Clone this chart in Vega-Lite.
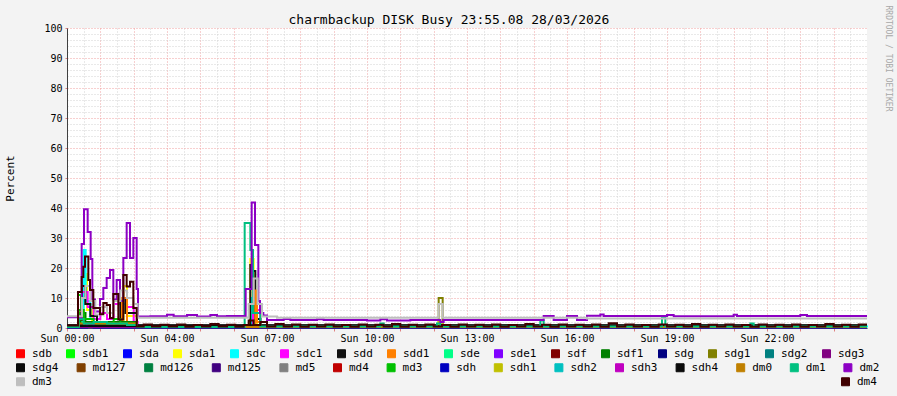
{
"$schema": "https://vega.github.io/schema/vega-lite/v6.json",
"autosize": {"type": "none"},
"width": 800,
"height": 300,
"padding": {"left": 67, "top": 28, "right": 30, "bottom": 68},
"background": "#F3F3F3",
"config": {
  "view": {"fill": "white", "stroke": null},
  "font": "DejaVu Sans Mono",
  "axis": {"labelFont": "DejaVu Sans Mono", "titleFont": "DejaVu Sans Mono", "labelColor": "black", "titleColor": "black", "titleFontWeight": "normal"},
  "legend": {"labelFont": "DejaVu Sans Mono", "labelFontSize": 11, "labelColor": "black", "symbolType": "square", "symbolSize": 64, "symbolStrokeWidth": 1, "padding": 0, "labelOffset": 6, "rowPadding": 0}
},
"datasets": {
"g1": [
{"s":"sdb","h":0,"v":0.3},{"s":"sdb","h":0.45,"v":1.5},{"s":"sdb","h":0.6,"v":0.8},{"s":"sdb","h":2.1,"v":0.2},{"s":"sdb","h":24,"v":0.2},
{"s":"sdb1","h":0,"v":0.3},{"s":"sdb1","h":0.33,"v":11},{"s":"sdb1","h":0.42,"v":5},{"s":"sdb1","h":0.55,"v":3},{"s":"sdb1","h":0.75,"v":1.5},{"s":"sdb1","h":1.2,"v":1.2},{"s":"sdb1","h":1.5,"v":2},{"s":"sdb1","h":1.7,"v":1.5},{"s":"sdb1","h":2.1,"v":0.2},{"s":"sdb1","h":24,"v":0.2},
{"s":"sda","h":0,"v":0.2},{"s":"sda","h":0.5,"v":1},{"s":"sda","h":0.8,"v":0.2},{"s":"sda","h":24,"v":0.2},
{"s":"sda1","h":0,"v":0.3},{"s":"sda1","h":0.5,"v":18},{"s":"sda1","h":0.6,"v":6},{"s":"sda1","h":0.75,"v":2},{"s":"sda1","h":1.0,"v":0.8},{"s":"sda1","h":1.7,"v":14},{"s":"sda1","h":1.8,"v":4},{"s":"sda1","h":2.1,"v":0.3},{"s":"sda1","h":5.5,"v":23},{"s":"sda1","h":5.6,"v":3},{"s":"sda1","h":5.7,"v":0.3},{"s":"sda1","h":24,"v":0.3},
{"s":"sdc","h":0,"v":0.2},{"s":"sdc","h":0.5,"v":26},{"s":"sdc","h":0.56,"v":9},{"s":"sdc","h":0.7,"v":3},{"s":"sdc","h":0.9,"v":1},{"s":"sdc","h":1.65,"v":8},{"s":"sdc","h":1.8,"v":2},{"s":"sdc","h":2.1,"v":0.2},{"s":"sdc","h":5.55,"v":10},{"s":"sdc","h":5.65,"v":0.5},{"s":"sdc","h":24,"v":0.2},
{"s":"sdc1","h":0,"v":0.3},{"s":"sdc1","h":0.45,"v":12},{"s":"sdc1","h":0.62,"v":7},{"s":"sdc1","h":0.8,"v":3},{"s":"sdc1","h":1.0,"v":5},{"s":"sdc1","h":1.2,"v":3},{"s":"sdc1","h":1.4,"v":8},{"s":"sdc1","h":1.6,"v":10},{"s":"sdc1","h":1.8,"v":7},{"s":"sdc1","h":2.0,"v":2},{"s":"sdc1","h":2.12,"v":0.3},{"s":"sdc1","h":5.58,"v":10},{"s":"sdc1","h":5.7,"v":6},{"s":"sdc1","h":5.8,"v":0.3},{"s":"sdc1","h":24,"v":0.3},
{"s":"sdd","h":0,"v":0.8},{"s":"sdd","h":0.45,"v":14},{"s":"sdd","h":0.55,"v":8},{"s":"sdd","h":0.7,"v":4},{"s":"sdd","h":0.9,"v":2},{"s":"sdd","h":1.6,"v":10},{"s":"sdd","h":1.75,"v":5},{"s":"sdd","h":2.1,"v":0.8},{"s":"sdd","h":5.5,"v":21},{"s":"sdd","h":5.58,"v":19},{"s":"sdd","h":5.65,"v":3},{"s":"sdd","h":5.8,"v":0.8},{"s":"sdd","h":24,"v":0.8},
{"s":"sdd1","h":0,"v":0.2},{"s":"sdd1","h":0.4,"v":6},{"s":"sdd1","h":0.5,"v":2},{"s":"sdd1","h":1.65,"v":10},{"s":"sdd1","h":1.8,"v":2},{"s":"sdd1","h":2.1,"v":0.2},{"s":"sdd1","h":5.65,"v":12.5},{"s":"sdd1","h":5.7,"v":2},{"s":"sdd1","h":5.8,"v":0.2},{"s":"sdd1","h":24,"v":0.2},
{"s":"sde","h":0,"v":0.5},{"s":"sde","h":0.4,"v":2},{"s":"sde","h":1.0,"v":1.5},{"s":"sde","h":2.1,"v":0.5},{"s":"sde","h":24,"v":0.5},
{"s":"sde1","h":0,"v":0.3},{"s":"sde1","h":24,"v":0.3},
{"s":"sdf","h":0,"v":0.5},{"s":"sdf","h":24,"v":0.5},
{"s":"sdf1","h":0,"v":0.3},{"s":"sdf1","h":0.4,"v":5},{"s":"sdf1","h":0.55,"v":2},{"s":"sdf1","h":2.1,"v":0.3},{"s":"sdf1","h":24,"v":0.3},
{"s":"sdg","h":0,"v":0.2},{"s":"sdg","h":24,"v":0.2},
{"s":"sdg1","h":0,"v":0.2},{"s":"sdg1","h":11.15,"v":10},{"s":"sdg1","h":11.27,"v":0.2},{"s":"sdg1","h":24,"v":0.2},
{"s":"sdg2","h":0,"v":0.2},{"s":"sdg2","h":24,"v":0.2},
{"s":"sdg3","h":0,"v":0.2},{"s":"sdg3","h":24,"v":0.2}
],
"g2": [
{"s":"sdg4","h":0,"v":0.9},{"s":"sdg4","h":24,"v":0.9},
{"s":"md127","h":0,"v":0.4},{"s":"md127","h":24,"v":0.4},
{"s":"md126","h":0,"v":0.3},{"s":"md126","h":24,"v":0.3},
{"s":"md125","h":0,"v":0.3},{"s":"md125","h":24,"v":0.3},
{"s":"md5","h":0,"v":0.3},{"s":"md5","h":24,"v":0.3},
{"s":"md4","h":0,"v":0.3},{"s":"md4","h":24,"v":0.3},
{"s":"md3","h":0,"v":0.3},{"s":"md3","h":0.35,"v":6},{"s":"md3","h":0.5,"v":3},{"s":"md3","h":0.8,"v":1.5},{"s":"md3","h":1.4,"v":3},{"s":"md3","h":1.6,"v":1.5},{"s":"md3","h":2.1,"v":0.3},{"s":"md3","h":24,"v":0.3},
{"s":"sdh","h":0,"v":0.2},{"s":"sdh","h":0.6,"v":1.5},{"s":"sdh","h":0.8,"v":0.2},{"s":"sdh","h":24,"v":0.2},
{"s":"sdh1","h":0,"v":0.3},{"s":"sdh1","h":11.15,"v":2},{"s":"sdh1","h":11.27,"v":0.3},{"s":"sdh1","h":24,"v":0.3},
{"s":"sdh2","h":0,"v":0.3},{"s":"sdh2","h":24,"v":0.3},
{"s":"sdh3","h":0,"v":0.3},{"s":"sdh3","h":24,"v":0.3},
{"s":"sdh4","h":0,"v":0.6},{"s":"sdh4","h":24,"v":0.6},
{"s":"dm0","h":0,"v":0.3},{"s":"dm0","h":0.35,"v":1.5},{"s":"dm0","h":2.1,"v":0.3},{"s":"dm0","h":24,"v":0.3},
{"s":"dm1","h":0,"v":0.3},{"s":"dm1","h":0.35,"v":3},{"s":"dm1","h":0.5,"v":1.5},{"s":"dm1","h":0.8,"v":2},{"s":"dm1","h":1.2,"v":1.5},{"s":"dm1","h":1.8,"v":1},{"s":"dm1","h":2.1,"v":0.3},{"s":"dm1","h":5.33,"v":35},{"s":"dm1","h":5.5,"v":26},{"s":"dm1","h":5.58,"v":5},{"s":"dm1","h":5.8,"v":0.5},{"s":"dm1","h":9.4,"v":1.5},{"s":"dm1","h":9.5,"v":0.5},{"s":"dm1","h":11.1,"v":1.5},{"s":"dm1","h":11.2,"v":0.5},{"s":"dm1","h":14.2,"v":2.5},{"s":"dm1","h":14.3,"v":0.5},{"s":"dm1","h":17.85,"v":3.5},{"s":"dm1","h":17.95,"v":0.5},{"s":"dm1","h":20.5,"v":1.5},{"s":"dm1","h":20.6,"v":0.5},{"s":"dm1","h":24,"v":0.5},
{"s":"dm2","h":0,"v":3.6},{"s":"dm2","h":0.44,"v":28},{"s":"dm2","h":0.51,"v":39.6},{"s":"dm2","h":0.62,"v":32},{"s":"dm2","h":0.71,"v":23},{"s":"dm2","h":0.76,"v":9.5},{"s":"dm2","h":0.84,"v":5.5},{"s":"dm2","h":0.99,"v":9.7},{"s":"dm2","h":1.09,"v":13.3},{"s":"dm2","h":1.19,"v":16.7},{"s":"dm2","h":1.29,"v":19.3},{"s":"dm2","h":1.39,"v":9.5},{"s":"dm2","h":1.49,"v":16},{"s":"dm2","h":1.59,"v":9},{"s":"dm2","h":1.69,"v":23.3},{"s":"dm2","h":1.79,"v":35},{"s":"dm2","h":1.89,"v":23.3},{"s":"dm2","h":1.99,"v":30},{"s":"dm2","h":2.09,"v":13},{"s":"dm2","h":2.13,"v":3.8},{"s":"dm2","h":2.5,"v":3.9},{"s":"dm2","h":3.0,"v":4.4},{"s":"dm2","h":3.2,"v":3.9},{"s":"dm2","h":3.6,"v":4.3},{"s":"dm2","h":3.9,"v":3.8},{"s":"dm2","h":4.3,"v":4.3},{"s":"dm2","h":4.5,"v":3.9},{"s":"dm2","h":4.8,"v":4.0},{"s":"dm2","h":5.36,"v":13},{"s":"dm2","h":5.54,"v":41.8},{"s":"dm2","h":5.64,"v":27.7},{"s":"dm2","h":5.74,"v":9},{"s":"dm2","h":5.79,"v":5},{"s":"dm2","h":5.89,"v":4.2},{"s":"dm2","h":6.0,"v":2.7},{"s":"dm2","h":6.5,"v":3.0},{"s":"dm2","h":6.7,"v":2.7},{"s":"dm2","h":7.5,"v":2.9},{"s":"dm2","h":7.7,"v":2.7},{"s":"dm2","h":9.0,"v":2.5},{"s":"dm2","h":9.4,"v":2.9},{"s":"dm2","h":9.6,"v":2.5},{"s":"dm2","h":10.3,"v":2.7},{"s":"dm2","h":11.2,"v":2.0},{"s":"dm2","h":11.3,"v":2.7},{"s":"dm2","h":14.3,"v":4.0},{"s":"dm2","h":14.6,"v":2.7},{"s":"dm2","h":15.0,"v":4.0},{"s":"dm2","h":15.3,"v":2.7},{"s":"dm2","h":15.6,"v":4.1},{"s":"dm2","h":16.0,"v":4.5},{"s":"dm2","h":16.1,"v":4.0},{"s":"dm2","h":18.0,"v":4.3},{"s":"dm2","h":18.2,"v":3.9},{"s":"dm2","h":20.0,"v":4.4},{"s":"dm2","h":20.1,"v":4.0},{"s":"dm2","h":22.0,"v":4.3},{"s":"dm2","h":22.2,"v":4.0},{"s":"dm2","h":24,"v":4.0}
],
"g3": [
{"s":"dm3","h":0,"v":3.9},{"s":"dm3","h":0.45,"v":10},{"s":"dm3","h":0.55,"v":14},{"s":"dm3","h":0.7,"v":9},{"s":"dm3","h":0.85,"v":4.5},{"s":"dm3","h":1.0,"v":7},{"s":"dm3","h":1.2,"v":5},{"s":"dm3","h":1.4,"v":9},{"s":"dm3","h":1.6,"v":12.5},{"s":"dm3","h":1.8,"v":10},{"s":"dm3","h":2.0,"v":8},{"s":"dm3","h":2.12,"v":3.4},{"s":"dm3","h":5.45,"v":8},{"s":"dm3","h":5.6,"v":16.5},{"s":"dm3","h":5.72,"v":8},{"s":"dm3","h":5.85,"v":3.8},{"s":"dm3","h":6.3,"v":3.4},{"s":"dm3","h":11.15,"v":8},{"s":"dm3","h":11.27,"v":3.4},{"s":"dm3","h":15.6,"v":3.2},{"s":"dm3","h":24,"v":3.2},
{"s":"dm4","h":0,"v":0.8},{"s":"dm4","h":0.33,"v":12},{"s":"dm4","h":0.44,"v":17},{"s":"dm4","h":0.49,"v":20.4},{"s":"dm4","h":0.54,"v":23.8},{"s":"dm4","h":0.64,"v":16},{"s":"dm4","h":0.69,"v":12.7},{"s":"dm4","h":0.79,"v":6.7},{"s":"dm4","h":0.99,"v":4.6},{"s":"dm4","h":1.09,"v":8.3},{"s":"dm4","h":1.19,"v":7.7},{"s":"dm4","h":1.29,"v":3.3},{"s":"dm4","h":1.39,"v":11.3},{"s":"dm4","h":1.54,"v":2.8},{"s":"dm4","h":1.69,"v":17.7},{"s":"dm4","h":1.79,"v":13.8},{"s":"dm4","h":1.89,"v":15.4},{"s":"dm4","h":1.99,"v":6.7},{"s":"dm4","h":2.09,"v":0.5},
{"s":"dm4","h":2.3,"v":1.2},{"s":"dm4","h":2.55,"v":0.5},{"s":"dm4","h":2.8,"v":1.1},{"s":"dm4","h":3.05,"v":0.5},{"s":"dm4","h":3.3,"v":1.2},{"s":"dm4","h":3.55,"v":0.4},{"s":"dm4","h":3.8,"v":1.0},{"s":"dm4","h":4.05,"v":0.5},{"s":"dm4","h":4.3,"v":1.3},{"s":"dm4","h":4.55,"v":0.5},{"s":"dm4","h":4.8,"v":1.1},{"s":"dm4","h":5.05,"v":0.4},{"s":"dm4","h":5.3,"v":1.0},{"s":"dm4","h":5.45,"v":2.5},{"s":"dm4","h":5.6,"v":1.0},{"s":"dm4","h":5.8,"v":2.0},{"s":"dm4","h":6.0,"v":0.5},{"s":"dm4","h":6.25,"v":1.3},{"s":"dm4","h":6.5,"v":0.5},{"s":"dm4","h":6.75,"v":1.2},{"s":"dm4","h":7.0,"v":0.4},{"s":"dm4","h":7.25,"v":1.1},{"s":"dm4","h":7.5,"v":0.5},{"s":"dm4","h":7.75,"v":1.2},{"s":"dm4","h":8.0,"v":0.5},{"s":"dm4","h":8.25,"v":1.0},{"s":"dm4","h":8.5,"v":0.4},{"s":"dm4","h":8.75,"v":1.2},{"s":"dm4","h":9.0,"v":0.5},{"s":"dm4","h":9.25,"v":1.1},{"s":"dm4","h":9.5,"v":0.5},{"s":"dm4","h":9.75,"v":1.3},{"s":"dm4","h":10.0,"v":0.4},{"s":"dm4","h":10.25,"v":1.1},{"s":"dm4","h":10.5,"v":0.5},{"s":"dm4","h":10.75,"v":1.2},{"s":"dm4","h":11.0,"v":0.5},{"s":"dm4","h":11.25,"v":1.0},{"s":"dm4","h":11.5,"v":0.4},{"s":"dm4","h":11.75,"v":1.2},{"s":"dm4","h":12.0,"v":0.5},{"s":"dm4","h":12.25,"v":1.1},{"s":"dm4","h":12.5,"v":0.5},{"s":"dm4","h":12.75,"v":1.2},{"s":"dm4","h":13.0,"v":0.4},{"s":"dm4","h":13.25,"v":1.0},{"s":"dm4","h":13.5,"v":0.5},{"s":"dm4","h":13.75,"v":1.3},{"s":"dm4","h":14.0,"v":0.5},{"s":"dm4","h":14.25,"v":1.1},{"s":"dm4","h":14.5,"v":0.4},{"s":"dm4","h":14.75,"v":1.2},{"s":"dm4","h":15.0,"v":0.5},{"s":"dm4","h":15.25,"v":1.1},{"s":"dm4","h":15.5,"v":0.5},{"s":"dm4","h":15.75,"v":1.2},{"s":"dm4","h":16.0,"v":0.4},{"s":"dm4","h":16.25,"v":1.6},{"s":"dm4","h":16.5,"v":0.5},{"s":"dm4","h":16.75,"v":1.2},{"s":"dm4","h":17.0,"v":0.5},{"s":"dm4","h":17.25,"v":1.0},{"s":"dm4","h":17.5,"v":0.4},{"s":"dm4","h":17.75,"v":1.2},{"s":"dm4","h":18.0,"v":0.5},{"s":"dm4","h":18.25,"v":1.1},{"s":"dm4","h":18.5,"v":0.5},{"s":"dm4","h":18.75,"v":1.3},{"s":"dm4","h":19.0,"v":0.4},{"s":"dm4","h":19.25,"v":1.1},{"s":"dm4","h":19.5,"v":0.5},{"s":"dm4","h":19.75,"v":1.2},{"s":"dm4","h":20.0,"v":0.5},{"s":"dm4","h":20.25,"v":1.0},{"s":"dm4","h":20.5,"v":0.4},{"s":"dm4","h":20.75,"v":1.2},{"s":"dm4","h":21.0,"v":0.5},{"s":"dm4","h":21.25,"v":1.1},{"s":"dm4","h":21.5,"v":0.5},{"s":"dm4","h":21.75,"v":1.2},{"s":"dm4","h":22.0,"v":0.4},{"s":"dm4","h":22.25,"v":1.0},{"s":"dm4","h":22.5,"v":0.5},{"s":"dm4","h":22.75,"v":1.3},{"s":"dm4","h":23.0,"v":0.5},{"s":"dm4","h":23.25,"v":1.1},{"s":"dm4","h":23.5,"v":0.4},{"s":"dm4","h":23.75,"v":1.2},{"s":"dm4","h":24,"v":1.2}
]
},
"layer": [
{
  "name": "g1",
  "data": {"name": "g1"},
  "mark": {"type": "line", "interpolate": "step-after", "strokeWidth": 2},
  "encoding": {
    "x": {"field": "h", "type": "quantitative", "scale": {"domain": [0, 24], "nice": false, "zero": false},
      "axis": {"orient": "bottom", "values": [0.5,1.5,2.5,3.5,4.5,5.5,6.5,7.5,8.5,9.5,10.5,11.5,12.5,13.5,14.5,15.5,16.5,17.5,18.5,19.5,20.5,21.5,22.5,23.5], "grid": true, "gridColor": "#D2D2D2", "gridDash": [1, 2], "labels": false, "ticks": false, "domain": false, "title": null}},
    "y": {"field": "v", "type": "quantitative", "scale": {"domain": [0, 100], "nice": false},
      "axis": {"orient": "left", "values": [2,4,6,8,12,14,16,18,22,24,26,28,32,34,36,38,42,44,46,48,52,54,56,58,62,64,66,68,72,74,76,78,82,84,86,88,92,94,96,98], "grid": true, "gridColor": "#D2D2D2", "gridDash": [1, 2], "labels": false, "ticks": false, "domain": false, "title": null}},
    "color": {"field": "s", "type": "nominal",
      "scale": {"domain": ["sdb","sdb1","sda","sda1","sdc","sdc1","sdd","sdd1","sde","sde1","sdf","sdf1","sdg","sdg1","sdg2","sdg3"],
                "range": ["#FF0000","#00FF00","#0000FF","#FFFF00","#00FFFF","#FF00FF","#111111","#FF8000","#00FF88","#8000FF","#800000","#008000","#000080","#808000","#008080","#800080"]},
      "legend": {"orient": "none", "legendX": -52, "legendY": 320, "direction": "horizontal", "columns": 16, "columnPadding": 12, "title": null,
        "encode": {"symbols": {"update": {"fill": {"scale": "g1_color", "field": "value"}, "stroke": {"value": "black"}, "strokeWidth": {"value": 1}, "opacity": {"value": 1}}}}}}
  }
},
{
  "name": "g2",
  "data": {"name": "g2"},
  "mark": {"type": "line", "interpolate": "step-after", "strokeWidth": 2},
  "encoding": {
    "x": {"field": "h", "type": "quantitative", "scale": {"domain": [0, 24], "nice": false, "zero": false},
      "axis": {"orient": "bottom", "values": [0,1,2,3,4,5,6,7,8,9,10,11,12,13,14,15,16,17,18,19,20,21,22,23], "grid": true, "gridColor": "#F0A0A0", "gridDash": [1, 2],
        "labelExpr": "datum.value % 3 == 0 ? 'Sun ' + ['00:00','04:00','07:00','10:00','13:00','16:00','19:00','22:00'][datum.value / 3] : ''",
        "labelFontSize": 10, "labelPadding": 2, "labelOverlap": false, "labelFlush": false, "ticks": true, "tickSize": 3, "tickColor": "#E08080", "domain": true, "domainColor": "#404040", "title": null}},
    "y": {"field": "v", "type": "quantitative", "scale": {"domain": [0, 100], "nice": false},
      "axis": {"orient": "left", "values": [0,10,20,30,40,50,60,70,80,90,100], "grid": true, "gridColor": "#F0A0A0", "gridDash": [1, 2], "labelFontSize": 10, "labelPadding": 3, "ticks": true, "tickSize": 2, "tickColor": "#E08080", "domain": true, "domainColor": "#404040",
        "title": "Percent", "titleFontSize": 11, "titleX": -57, "titleY": 150, "titleAngle": -90, "titleAlign": "center", "titleBaseline": "middle"}},
    "color": {"field": "s", "type": "nominal",
      "scale": {"domain": ["sdg4","md127","md126","md125","md5","md4","md3","sdh","sdh1","sdh2","sdh3","sdh4","dm0","dm1","dm2"],
                "range": ["#0A0A0A","#804000","#008040","#400080","#808080","#C00000","#00C000","#0000C0","#C0C000","#00C0C0","#C000C0","#0A0A0A","#C08000","#00C080","#8C00C4"]},
      "legend": {"orient": "none", "legendX": -52, "legendY": 334, "direction": "horizontal", "columns": 15, "columnPadding": 15.6, "title": null,
        "encode": {"symbols": {"update": {"fill": {"scale": "g2_color", "field": "value"}, "stroke": {"value": "black"}, "strokeWidth": {"value": 1}, "opacity": {"value": 1}}}}}}
  }
},
{
  "name": "g3",
  "data": {"name": "g3"},
  "mark": {"type": "line", "interpolate": "step-after", "strokeWidth": 2},
  "encoding": {
    "x": {"field": "h", "type": "quantitative", "scale": {"domain": [0, 24], "nice": false, "zero": false},
      "axis": {"orient": "top", "grid": false, "labels": false, "ticks": false, "domain": false,
        "title": "charmbackup DISK Busy 23:55.08 28/03/2026", "titleFontSize": 13, "titleX": 381.5, "titleY": -9, "titleAlign": "center", "titleBaseline": "middle", "titleAngle": 0}},
    "y": {"field": "v", "type": "quantitative", "scale": {"domain": [0, 100], "nice": false},
      "axis": {"orient": "right", "grid": false, "labels": false, "ticks": false, "domain": false,
        "title": "RRDTOOL / TOBI OETIKER", "titleFontSize": 8, "titleColor": "#A8A8A8", "titleX": 20, "titleY": -23, "titleAngle": 90, "titleAlign": "left", "titleBaseline": "middle"}},
    "color": {"field": "s", "type": "nominal",
      "scale": {"domain": ["dm3","dm4"], "range": ["#BEBEBE","#400000"]},
      "legend": {"orient": "none", "legendX": -52, "legendY": 348, "direction": "horizontal", "columns": 2, "columnPadding": 787, "title": null,
        "encode": {"symbols": {"update": {"fill": {"scale": "g3_color", "field": "value"}, "stroke": {"value": "black"}, "strokeWidth": {"value": 1}, "opacity": {"value": 1}}}}}}
  }
}
],
"resolve": {"scale": {"color": "independent"}, "axis": {"x": "independent", "y": "independent"}}
}
